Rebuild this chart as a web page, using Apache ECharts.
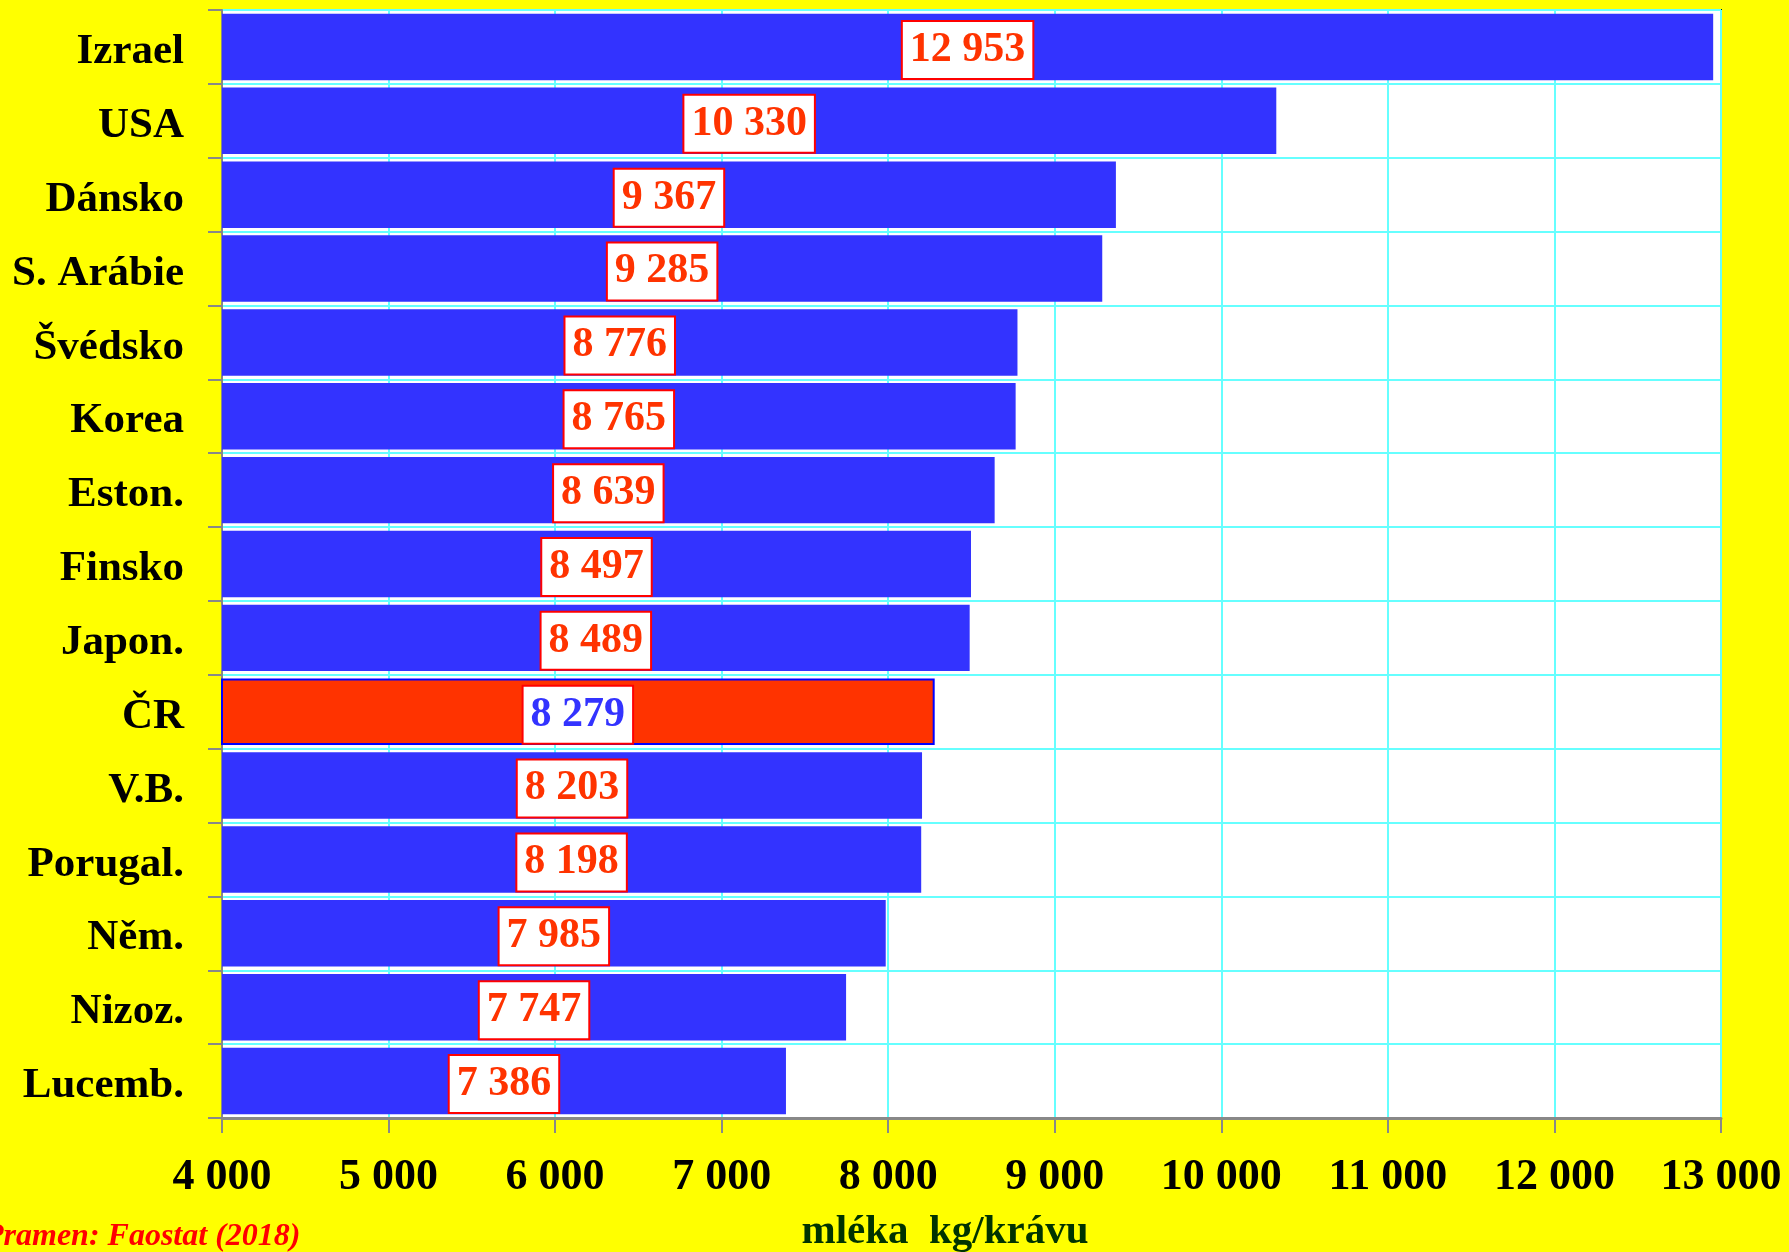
<!DOCTYPE html>
<html>
<head>
<meta charset="utf-8">
<script src="https://cdn.jsdelivr.net/npm/echarts@6/dist/echarts.min.js"></script>
<style>
html,body{margin:0;padding:0;background:#FFFF00;}
#chart{width:1789px;height:1252px;}
</style>
</head>
<body>
<div id="chart"></div>
<script>
const categories = ['Izrael','USA','Dánsko','S. Arábie','Švédsko','Korea','Eston.','Finsko','Japon.','ČR','V.B.','Porugal.','Něm.','Nizoz.','Lucemb.'];
const values = [12953,10330,9367,9285,8776,8765,8639,8497,8489,8279,8203,8198,7985,7747,7386];
const highlighted = 'ČR';
const axisTitle = 'mléka  kg/krávu';
const sourceNote = 'Pramen: Faostat (2018)';

const FONT = '"Liberation Serif","Times New Roman",serif';
function fmt(v){ return String(v).replace(/\B(?=(\d{3})+(?!\d))/g, ' '); }

const seriesData = values.map((v,i) => {
  const hi = categories[i] === highlighted;
  return {
    value: v,
    itemStyle: hi ? {color:'#FF3300', borderColor:'#0000FF', borderWidth:2} : {color:'#3333FF'},
    label: hi ? {color:'#3333FF'} : {}
  };
});

const chart = echarts.init(document.getElementById('chart'));
chart.setOption({
  backgroundColor:'#FFFF00',
  animation:false,
  grid:{left:222,right:68,top:10,bottom:134,show:true,backgroundColor:'#FFFFFF',borderColor:'#003300',borderWidth:2},
  xAxis:{
    type:'value',min:4000,max:13000,interval:1000,
    axisLine:{show:true,lineStyle:{color:'#888888',width:3}},
    axisTick:{show:true,length:15,lineStyle:{color:'#888888',width:2}},
    splitLine:{show:true,lineStyle:{color:'#66FFFF',width:2}},
    axisLabel:{margin:38,fontFamily:FONT,fontWeight:'bold',fontSize:44,color:'#000000',formatter:v=>fmt(v)}
  },
  yAxis:{
    type:'category',data:categories,inverse:true,
    axisLine:{show:true,lineStyle:{color:'#888888',width:2}},
    axisTick:{show:true,length:14,lineStyle:{color:'#888888',width:2}},
    splitLine:{show:true,lineStyle:{color:'#66FFFF',width:2}},
    axisLabel:{margin:38,formatter:v=>'{c|'+v+'}',
      rich:{c:{fontFamily:FONT,fontWeight:'bold',fontSize:43,color:'#000000',padding:[10,0,0,0]}}}
  },
  series:[{
    type:'bar',data:seriesData,barCategoryGap:'10%',
    label:{show:true,position:'inside',offset:[0,3],formatter:p=>fmt(p.value),
      fontFamily:FONT,fontWeight:'bold',fontSize:42,lineHeight:44,color:'#FF3300',
      backgroundColor:'#FFFFFF',borderColor:'#FF0000',borderWidth:2,padding:[9,7,3,7]}
  }],
  graphic:[
    {type:'text',x:945,y:1232,style:{text:axisTitle,fontFamily:FONT,fontWeight:'bold',fontSize:41,fill:'#003300',textAlign:'center',textVerticalAlign:'middle'}},
    {type:'text',x:-16,y:1237,style:{text:sourceNote,fontFamily:FONT,fontStyle:'italic',fontWeight:'bold',fontSize:32,fill:'#FF0000',textAlign:'left',textVerticalAlign:'middle'}}
  ]
});
</script>
</body>
</html>
